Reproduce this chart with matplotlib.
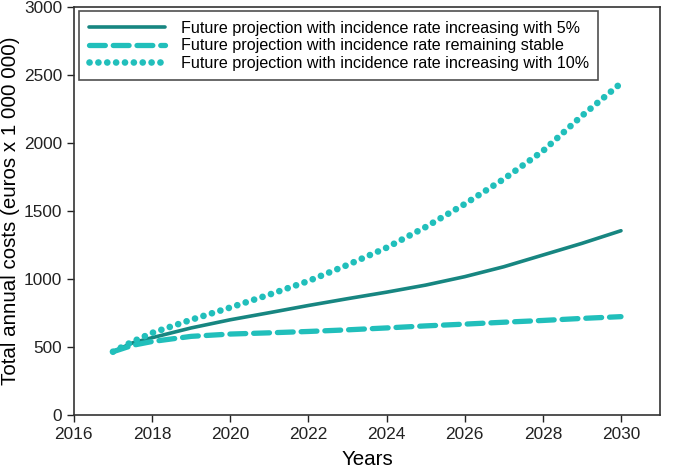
import numpy as np
import matplotlib.pyplot as plt

plt.rcParams['font.family'] = ['Liberation Sans', 'DejaVu Sans']

#data
years = [2017, 2017.5, 2018, 2019, 2020, 2021, 2022, 2023, 2024, 2025, 2026, 2027, 2028, 2029, 2030]
cost_5pct = [465, 530, 568, 640, 700, 752, 805, 855, 903, 955, 1017, 1090, 1176, 1262, 1355]
cost_stable = [465, 512, 540, 578, 595, 604, 614, 626, 640, 655, 668, 682, 695, 710, 723]
cost_10pct = [465, 539, 603, 700, 790, 885, 985, 1103, 1230, 1382, 1551, 1735, 1941, 2200, 2440]

labels = ['Future projection with incidence rate increasing with 5%',
          'Future projection with incidence rate remaining stable',
          'Future projection with incidence rate increasing with 10%']

dark = '#178681'
light = '#21bfbb'

fig = plt.figure(figsize=(6.84, 4.71), dpi=100)
ax = fig.add_axes([0.108, 0.119, 0.857, 0.866])

ax.plot(years, cost_5pct, color=dark, lw=2.6, solid_capstyle='round', label=labels[0])
ax.plot(years, cost_stable, color=light, lw=3.8, dashes=(3.0, 1.5),
        dash_capstyle='round', label=labels[1])
ax.plot(years, cost_10pct, color=light, lw=4.8, dashes=(0.01, 1.32),
        dash_capstyle='round', label=labels[2])

ax.set_xlim(2016, 2031)
ax.set_ylim(0, 3000)
ax.set_xticks(range(2016, 2031, 2))
ax.set_yticks(range(0, 3001, 500))
ax.tick_params(labelsize=12.4, length=5, width=1, colors='#222222')
for s in ax.spines.values():
    s.set_color('#333333')
    s.set_linewidth(1.2)

ax.set_xlabel('Years', fontsize=14.8, labelpad=6)
ax.set_ylabel('Total annual costs (euros x 1 000 000)', fontsize=14.8, labelpad=3)

leg = ax.legend(loc='upper left', bbox_to_anchor=(0.009, 0.99), fontsize=11.6,
                handlelength=4.7, frameon=True, fancybox=False, borderaxespad=0,
                labelspacing=0.15, handletextpad=1.0, borderpad=0.6)
leg.get_frame().set_edgecolor('#222222')
leg.get_frame().set_linewidth(1.2)

fig.savefig('out.png', dpi=100)
